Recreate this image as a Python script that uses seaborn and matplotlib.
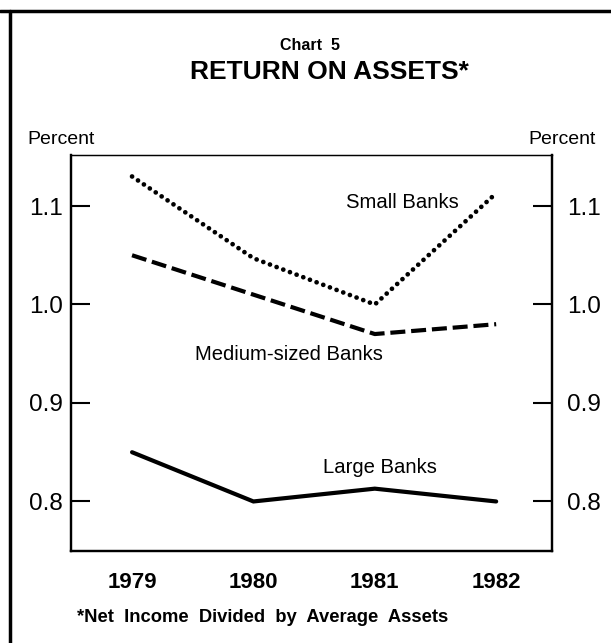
import pandas as pd
import matplotlib
matplotlib.use("Agg")
import matplotlib.pyplot as plt
from matplotlib.lines import Line2D
import seaborn as sns

# -----------------------------------
# DATA
# -----------------------------------
years = [1979, 1980, 1981, 1982]
small_banks = [1.13, 1.047, 1.00, 1.113]
medium_banks = [1.05, 1.01, 0.97, 0.98]
large_banks = [0.85, 0.80, 0.813, 0.80]
y_ticks = [0.8, 0.9, 1.0, 1.1]
y_tick_labels = ["0.8", "0.9", "1.0", "1.1"]


def main():
    sns.set_style("white")
    plt.rcParams['font.family'] = ['Liberation Sans', 'DejaVu Sans']
    plt.rcParams['text.color'] = 'black'
    plt.rcParams['xtick.color'] = 'black'
    plt.rcParams['ytick.color'] = 'black'

    fig = plt.figure(figsize=(6.11, 6.43), dpi=100)
    ax = fig.add_axes([71 / 611, 92 / 643, 481 / 611, 396 / 643])

    # ---------------- LINES ----------------
    sns.lineplot(x=years, y=small_banks, ax=ax, color="black",
                 linewidth=3.4, linestyle=(0, (0.01, 1.5)),
                 dash_capstyle="round")
    sns.lineplot(x=years, y=medium_banks, ax=ax, color="black",
                 linewidth=3, linestyle=(0, (3.6, 1.4)))
    sns.lineplot(x=years, y=large_banks, ax=ax, color="black",
                 linewidth=3, solid_joinstyle="miter")

    ax.set_xlim(1978.497, 1982.46)
    ax.set_ylim(0.7497, 1.1518)

    # ---------------- AXES ----------------
    ax.set_xticks(years)
    ax.set_xticklabels([str(y) for y in years], fontsize=16,
                       fontweight="bold")
    ax.set_yticks(y_ticks)
    ax.set_yticklabels(y_tick_labels, fontsize=17.5)
    ax.tick_params(axis="x", direction="in", length=14, width=1.5,
                   pad=15)
    ax.tick_params(axis="y", direction="in", length=14, width=1.5,
                   pad=6)

    ax2 = ax.twinx()
    ax2.set_ylim(ax.get_ylim())
    ax2.set_yticks(y_ticks)
    ax2.set_yticklabels(y_tick_labels, fontsize=17.5)
    ax2.tick_params(axis="y", direction="in", length=14, width=1.5,
                    pad=11)

    for a in (ax, ax2):
        for side in ["left", "bottom", "right"]:
            a.spines[side].set_color("black")
            a.spines[side].set_linewidth(1.6)
        a.spines["top"].set_color("black")
        a.spines["top"].set_linewidth(0.9)

    # ---------------- LABELS ----------------
    ax.text(1981.225, 1.104, "Small Banks", fontsize=14.6,
            ha="center", va="center")
    ax.text(1980.29, 0.949, "Medium-sized Banks", fontsize=14.6,
            ha="center", va="center")
    ax.text(1981.04, 0.834, "Large Banks", fontsize=14.6,
            ha="center", va="center")

    fig.text(27 / 611, 1 - 140 / 643, "Percent", fontsize=14,
             ha="left", va="center")
    fig.text(596 / 611, 1 - 140 / 643, "Percent", fontsize=14,
             ha="right", va="center")

    fig.text(310 / 611, 1 - 46 / 643, "Chart  5", fontsize=11.5,
             fontweight="bold", ha="center", va="center")
    fig.text(329 / 611, 1 - 72 / 643, "RETURN ON ASSETS*", fontsize=19,
             fontweight="bold", ha="center", va="center")

    fig.text(77 / 611, 1 - 618 / 643,
             "*Net  Income  Divided  by  Average  Assets",
             fontsize=13.2, fontweight="bold", ha="left", va="center")

    # ---------------- FRAME ----------------
    fig.add_artist(Line2D([0, 1], [1 - 11 / 643, 1 - 11 / 643],
                          transform=fig.transFigure, color="black",
                          linewidth=2.5))
    fig.add_artist(Line2D([10 / 611, 10 / 611], [0, 1 - 11 / 643],
                          transform=fig.transFigure, color="black",
                          linewidth=2.5))

    fig.savefig("out.png", dpi=100)


if __name__ == "__main__":
    main()
